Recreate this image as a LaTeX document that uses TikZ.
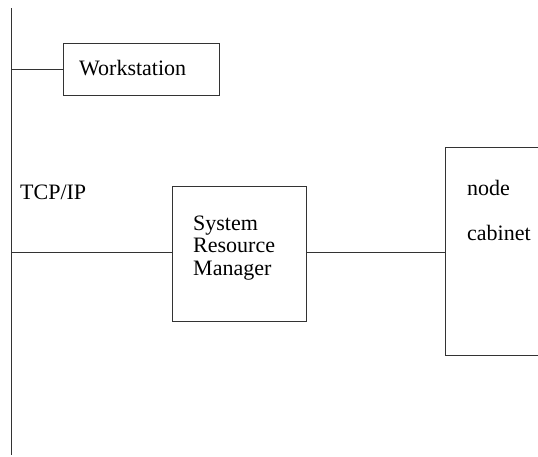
\documentclass[tikz,border=0pt]{standalone}
\usepackage{fontspec}
\setmainfont{Liberation Serif}
\begin{document}
\begin{tikzpicture}[x=1pt,y=-1pt,
  wire/.style={line width=1pt,draw=black!80},
  unit/.style={draw=black!80,line width=1pt,rectangle,inner sep=0pt},
  caption/.style={anchor=base west,inner sep=0pt,font=\fontsize{22}{22.5}\selectfont}]
\useasboundingbox (0,0) rectangle (538,456);
\clip (0,0) rectangle (538,456);

% network bus
\coordinate (bustop) at (11,8);
\coordinate (busbot) at (11,455);
\draw[wire] (bustop) -- (busbot);

% units attached to the bus
\node[unit,minimum width=156pt,minimum height=52pt] (ws) at (141,69) {};
\node[unit,minimum width=134pt,minimum height=135pt] (srm) at (239,253.5) {};
\node[unit,minimum width=130pt,minimum height=208pt] (cab) at (510,251) {};

% texts
\node[caption] (wstext) at (79,75) {Workstation};
\node[caption] (tcp) at (20,199) {TCP/IP};
\node[caption] (srm1) at (193,230) {System};
\node[caption] (srm2) at (193,252.5) {Resource};
\node[caption] (srm3) at (193,275) {Manager};
\node[caption] (cab1) at (467,195) {node};
\node[caption] (cab2) at (467,240) {cabinet};

% links
\coordinate (tapws) at (11,69);
\coordinate (tapsrm) at (11,252);
\draw[wire] (tapws) -- (tapws -| ws.west);
\draw[wire] (tapsrm) -- (tapsrm -| srm.west);
\draw[wire] (tapsrm -| srm.east) -- (tapsrm -| cab.west);
\end{tikzpicture}
\end{document}
